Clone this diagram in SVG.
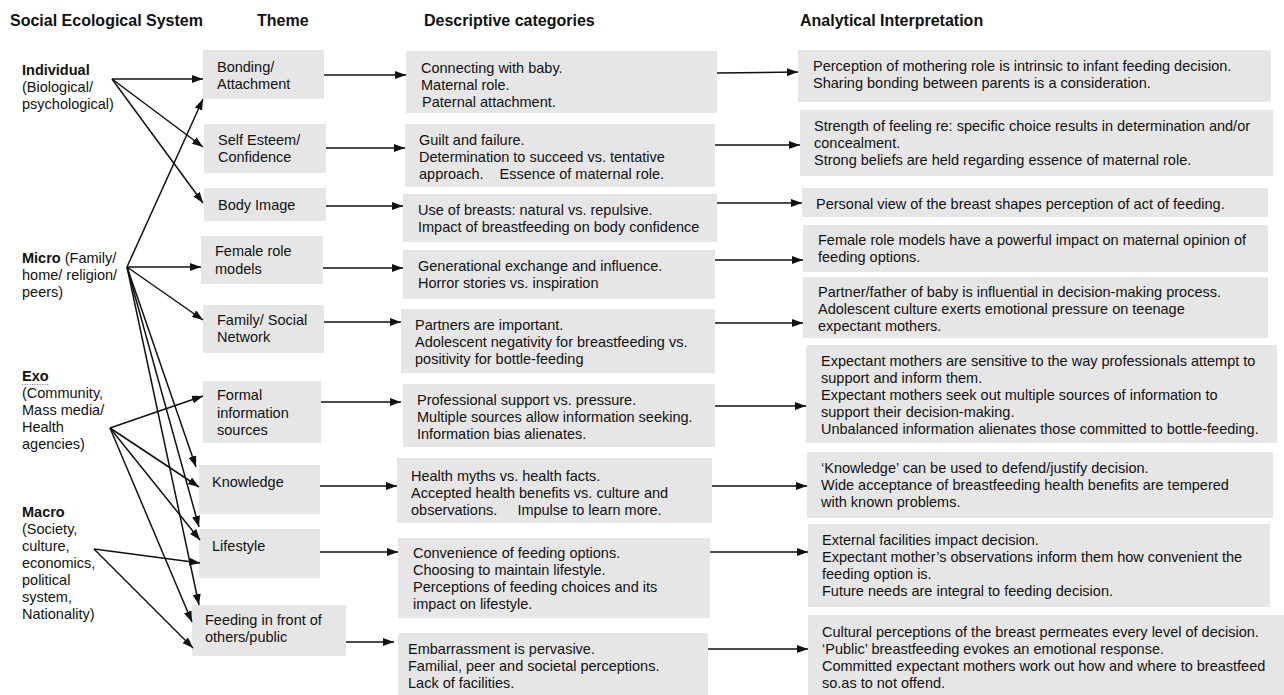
<svg xmlns="http://www.w3.org/2000/svg" width="1284" height="695" viewBox="0 0 1284 695">
  <style>
    text { font-family: "Liberation Sans", Arial, sans-serif; font-size: 14.5px; fill: #111; }
    .hd { font-weight: bold; font-size: 16px; }
    .lv { font-weight: bold; }
    .box { fill: #e6e6e6; }
    .cn { stroke: #111; stroke-width: 1.5; fill: none; marker-end: url(#ah); }
  </style>
  <defs>
    <marker id="ah" markerWidth="11" markerHeight="8" refX="11" refY="4" orient="auto" markerUnits="userSpaceOnUse">
      <path d="M0,0 L11,4 L0,8 z" fill="#111"/>
    </marker>
  </defs>
  <rect width="1284" height="695" fill="#fff"/>

  <!-- column headings -->
  <g id="headings">
    <text class="hd" x="10" y="26">Social Ecological System</text>
    <text class="hd" x="257" y="26">Theme</text>
    <text class="hd" x="424" y="26">Descriptive categories</text>
    <text class="hd" x="800" y="26">Analytical Interpretation</text>
  </g>

  <!-- system levels -->
  <g id="level-individual">
    <text x="22" y="75"><tspan class="lv">Individual</tspan></text>
    <text x="22" y="92">(Biological/</text>
    <text x="22" y="109">psychological)</text>
  </g>
  <g id="level-micro">
    <text x="22" y="263"><tspan class="lv">Micro</tspan> (Family/</text>
    <text x="22" y="280">home/ religion/</text>
    <text x="22" y="297">peers)</text>
  </g>
  <g id="level-exo">
    <text x="22" y="381"><tspan class="lv">Exo</tspan></text>
    <line x1="22" y1="384.5" x2="49" y2="384.5" stroke="#8a8a8a" stroke-width="1.2" stroke-dasharray="1.2 1.3"/>
    <text x="22" y="398">(Community,</text>
    <text x="22" y="415">Mass media/</text>
    <text x="22" y="432">Health</text>
    <text x="22" y="449">agencies)</text>
  </g>
  <g id="level-macro">
    <text x="22" y="517"><tspan class="lv">Macro</tspan></text>
    <text x="22" y="534">(Society,</text>
    <text x="22" y="551">culture,</text>
    <text x="22" y="568">economics,</text>
    <text x="22" y="585">political</text>
    <text x="22" y="602">system,</text>
    <text x="22" y="619">Nationality)</text>
  </g>

  <!-- themes -->
  <g id="theme-bonding">
    <rect class="box" x="203" y="50" width="121" height="49"/>
    <text x="217" y="72">Bonding/</text>
    <text x="217" y="89">Attachment</text>
  </g>
  <g id="theme-selfesteem">
    <rect class="box" x="204" y="124" width="122" height="49"/>
    <text x="218" y="145">Self Esteem/</text>
    <text x="218" y="162">Confidence</text>
  </g>
  <g id="theme-bodyimage">
    <rect class="box" x="204" y="188" width="122" height="33"/>
    <text x="218" y="210">Body Image</text>
  </g>
  <g id="theme-female">
    <rect class="box" x="201" y="236" width="122" height="48"/>
    <text x="215" y="256">Female role</text>
    <text x="215" y="274">models</text>
  </g>
  <g id="theme-family">
    <rect class="box" x="203" y="305" width="121" height="48"/>
    <text x="217" y="325">Family/ Social</text>
    <text x="217" y="342">Network</text>
  </g>
  <g id="theme-formal">
    <rect class="box" x="203" y="381" width="118" height="62"/>
    <text x="217" y="400">Formal</text>
    <text x="217" y="418">information</text>
    <text x="217" y="435">sources</text>
  </g>
  <g id="theme-knowledge">
    <rect class="box" x="199" y="465" width="121" height="49"/>
    <text x="212" y="487">Knowledge</text>
  </g>
  <g id="theme-lifestyle">
    <rect class="box" x="199" y="529" width="121" height="49"/>
    <text x="212" y="551">Lifestyle</text>
  </g>
  <g id="theme-public">
    <rect class="box" x="192" y="605" width="154" height="51"/>
    <text x="205" y="625">Feeding in front of</text>
    <text x="205" y="642">others/public</text>
  </g>

  <!-- descriptive categories -->
  <g id="desc-bonding">
    <rect class="box" x="406" y="51" width="311" height="62"/>
    <text x="421" y="73">Connecting with baby.</text>
    <text x="421" y="90">Maternal role.</text>
    <text x="422" y="107">Paternal attachment.</text>
  </g>
  <g id="desc-selfesteem">
    <rect class="box" x="405" y="124" width="310" height="63"/>
    <text x="419" y="145">Guilt and failure.</text>
    <text x="419" y="162">Determination to succeed vs. tentative</text>
    <text x="419" y="179" xml:space="preserve">approach.    Essence of maternal role.</text>
  </g>
  <g id="desc-bodyimage">
    <rect class="box" x="403" y="194" width="314" height="48"/>
    <text x="418" y="215">Use of breasts: natural vs. repulsive.</text>
    <text x="418" y="232">Impact of breastfeeding on body confidence</text>
  </g>
  <g id="desc-female">
    <rect class="box" x="403" y="250" width="312" height="49"/>
    <text x="418" y="271">Generational exchange and influence.</text>
    <text x="418" y="288">Horror stories vs. inspiration</text>
  </g>
  <g id="desc-family">
    <rect class="box" x="401" y="309" width="314" height="64"/>
    <text x="415" y="330">Partners are important.</text>
    <text x="415" y="347">Adolescent negativity for breastfeeding vs.</text>
    <text x="415" y="364">positivity for bottle-feeding</text>
  </g>
  <g id="desc-formal">
    <rect class="box" x="403" y="384" width="312" height="63"/>
    <text x="417" y="405">Professional support vs. pressure.</text>
    <text x="417" y="422">Multiple sources allow information seeking.</text>
    <text x="417" y="439">Information bias alienates.</text>
  </g>
  <g id="desc-knowledge">
    <rect class="box" x="397" y="458" width="315" height="65"/>
    <text x="411" y="481">Health myths vs. health facts.</text>
    <text x="411" y="498">Accepted health benefits vs. culture and</text>
    <text x="411" y="515" xml:space="preserve">observations.     Impulse to learn more.</text>
  </g>
  <g id="desc-lifestyle">
    <rect class="box" x="398" y="538" width="312" height="80"/>
    <text x="413" y="558">Convenience of feeding options.</text>
    <text x="413" y="575">Choosing to maintain lifestyle.</text>
    <text x="413" y="592">Perceptions of feeding choices and its</text>
    <text x="413" y="609">impact on lifestyle.</text>
  </g>
  <g id="desc-public">
    <rect class="box" x="398" y="633" width="310" height="62"/>
    <text x="408" y="654">Embarrassment is pervasive.</text>
    <text x="408" y="671">Familial, peer and societal perceptions.</text>
    <text x="408" y="688">Lack of facilities.</text>
  </g>

  <!-- analytical interpretation -->
  <g id="ana-bonding">
    <rect class="box" x="798" y="50" width="473" height="52"/>
    <text x="813" y="71">Perception of mothering role is intrinsic to infant feeding decision.</text>
    <text x="813" y="88">Sharing bonding between parents is a consideration.</text>
  </g>
  <g id="ana-selfesteem">
    <rect class="box" x="800" y="110" width="473" height="66"/>
    <text x="814" y="131">Strength of feeling re: specific choice results in determination and/or</text>
    <text x="814" y="148">concealment.</text>
    <text x="814" y="165">Strong beliefs are held regarding essence of maternal role.</text>
  </g>
  <g id="ana-bodyimage">
    <rect class="box" x="802" y="188" width="466" height="29"/>
    <text x="816" y="209">Personal view of the breast shapes perception of act of feeding.</text>
  </g>
  <g id="ana-female">
    <rect class="box" x="803" y="225" width="465" height="47"/>
    <text x="818" y="245">Female role models have a powerful impact on maternal opinion of</text>
    <text x="818" y="262">feeding options.</text>
  </g>
  <g id="ana-family">
    <rect class="box" x="803" y="277" width="465" height="61"/>
    <text x="818" y="297">Partner/father of baby is influential in decision-making process.</text>
    <text x="818" y="314">Adolescent culture exerts emotional pressure on teenage</text>
    <text x="818" y="331">expectant mothers.</text>
  </g>
  <g id="ana-formal">
    <rect class="box" x="806" y="345" width="471" height="98"/>
    <text x="821" y="366">Expectant mothers are sensitive to the way professionals attempt to</text>
    <text x="821" y="383">support and inform them.</text>
    <text x="821" y="400">Expectant mothers seek out multiple sources of information to</text>
    <text x="821" y="417">support their decision-making.</text>
    <text x="821" y="434">Unbalanced information alienates those committed to bottle-feeding.</text>
  </g>
  <g id="ana-knowledge">
    <rect class="box" x="807" y="452" width="466" height="66"/>
    <text x="821" y="473">‘Knowledge’ can be used to defend/justify decision.</text>
    <text x="821" y="490">Wide acceptance of breastfeeding health benefits are tempered</text>
    <text x="821" y="507">with known problems.</text>
  </g>
  <g id="ana-lifestyle">
    <rect class="box" x="808" y="524" width="462" height="83"/>
    <text x="822" y="545">External facilities impact decision.</text>
    <text x="822" y="562">Expectant mother’s observations inform them how convenient the</text>
    <text x="822" y="579">feeding option is.</text>
    <text x="822" y="596">Future needs are integral to feeding decision.</text>
  </g>
  <g id="ana-public">
    <rect class="box" x="808" y="615" width="476" height="80"/>
    <text x="822" y="637">Cultural perceptions of the breast permeates every level of decision.</text>
    <text x="822" y="654">‘Public’ breastfeeding evokes an emotional response.</text>
    <text x="822" y="671">Committed expectant mothers work out how and where to breastfeed</text>
    <text x="822" y="688">so.as to not offend.</text>
  </g>

  <!-- connectors -->
  <g id="connectors">
    <!-- Individual -->
    <line class="cn" x1="112" y1="79" x2="203" y2="79"/>
    <line class="cn" x1="112" y1="79" x2="203" y2="147"/>
    <line class="cn" x1="112" y1="79" x2="203" y2="203"/>
    <!-- Micro -->
    <line class="cn" x1="127" y1="267" x2="203" y2="99"/>
    <line class="cn" x1="127" y1="267" x2="201" y2="267"/>
    <line class="cn" x1="127" y1="267" x2="203" y2="320"/>
    <line class="cn" x1="127" y1="267" x2="196" y2="467"/>
    <line class="cn" x1="127" y1="267" x2="199" y2="527"/>
    <line class="cn" x1="127" y1="267" x2="199" y2="605"/>
    <!-- Exo -->
    <line class="cn" x1="110" y1="428" x2="203" y2="396"/>
    <line class="cn" x1="110" y1="428" x2="199" y2="487"/>
    <line class="cn" x1="110" y1="428" x2="200" y2="540"/>
    <line class="cn" x1="110" y1="428" x2="192" y2="622"/>
    <!-- Macro -->
    <line class="cn" x1="94" y1="549" x2="200" y2="563"/>
    <line class="cn" x1="94" y1="549" x2="193" y2="648"/>
    <!-- theme to descriptive -->
    <line class="cn" x1="324" y1="75" x2="406" y2="75"/>
    <line class="cn" x1="326" y1="148" x2="405" y2="148"/>
    <line class="cn" x1="326" y1="206" x2="403" y2="206"/>
    <line class="cn" x1="323" y1="268" x2="403" y2="268"/>
    <line class="cn" x1="324" y1="322" x2="401" y2="322"/>
    <line class="cn" x1="321" y1="402" x2="401" y2="402"/>
    <line class="cn" x1="320" y1="486" x2="397" y2="486"/>
    <line class="cn" x1="320" y1="552" x2="398" y2="552"/>
    <line class="cn" x1="346" y1="642" x2="394" y2="642"/>
    <!-- descriptive to analytical -->
    <line class="cn" x1="717" y1="73" x2="798" y2="72"/>
    <line class="cn" x1="715" y1="145" x2="800" y2="145"/>
    <line class="cn" x1="717" y1="203" x2="802" y2="203"/>
    <line class="cn" x1="715" y1="260" x2="803" y2="260"/>
    <line class="cn" x1="715" y1="323" x2="803" y2="323"/>
    <line class="cn" x1="715" y1="406" x2="806" y2="406"/>
    <line class="cn" x1="712" y1="486" x2="807" y2="486"/>
    <line class="cn" x1="710" y1="552" x2="808" y2="552"/>
    <line class="cn" x1="708" y1="649" x2="808" y2="649"/>
  </g>
</svg>
